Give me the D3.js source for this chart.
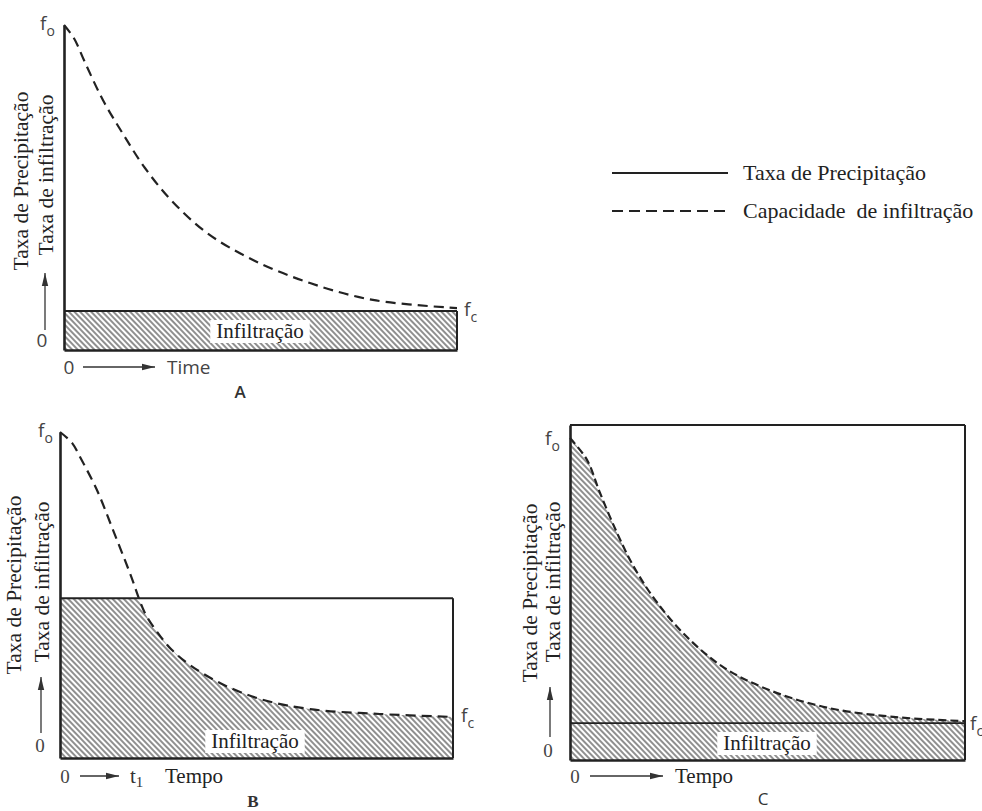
<!DOCTYPE html>
<html>
<head>
<meta charset="utf-8">
<script src="https://cdn.jsdelivr.net/npm/d3@7"></script>
<style>
  body { margin: 0; background: #fff; }
</style>
</head>
<body>
<script>
/* global d3 */

// Data (arbitrary units 0..10)
const timeA = [0, 0.25, 0.53, 0.99, 1.5, 2.06, 2.75, 3.64, 4.81, 6.26, 7.86, 10];
const capA = [10, 9.6, 8.86, 7.69, 6.65, 5.6, 4.58, 3.6, 2.77, 2.06, 1.54, 1.29];
const rainA = 1.2;

const timeB = [0, 0.31, 0.51, 0.94, 1.35, 1.78, 2.16, 2.47, 2.85, 3.31, 4.07, 5.09, 6.36, 8.14, 10];
const capB = [10, 9.66, 9.23, 8.22, 6.99, 5.67, 4.45, 3.87, 3.31, 2.85, 2.3, 1.81, 1.5, 1.35, 1.26];
const rainB = 4.9;

const timeC = [0, 0.43, 0.76, 1.19, 1.59, 2.1, 2.86, 3.87, 5.04, 6.56, 8.25, 10];
const capC = [9.61, 8.96, 7.97, 6.78, 5.82, 4.87, 3.79, 2.78, 2.09, 1.55, 1.28, 1.16];
const rainC = 10;
const lowLineC = 1.1;

const yLabels = ['Taxa de Precipitação', 'Taxa de infiltração'];
const legendLabels = ['Taxa de Precipitação', 'Capacidade  de infiltração'];
const areaLabel = 'Infiltração';

// SVG setup
const width = 982;
const height = 811;
const ink = '#222';
const serif = '"Liberation Serif", "Times New Roman", serif';
const sans = '"Open Sans", "DejaVu Sans", sans-serif';

const svg = d3.select('body')
.append('svg')
.attr('width', width)
.attr('height', height);

// hatch pattern "\\\\"
svg.append('defs')
.append('pattern')
.attr('id', 'hatch')
.attr('patternUnits', 'userSpaceOnUse')
.attr('width', 4)
.attr('height', 10)
.attr('patternTransform', 'rotate(-44)')
.append('line')
.attr('x1', 1).attr('y1', 0)
.attr('x2', 1).attr('y2', 10)
.attr('stroke', '#333')
.attr('stroke-width', 1.1);

const panels = [
    { id: 'A', time: timeA, cap: capA, rain: rainA, box: [64, 457, 25, 350],
      letter: 'A', letterPos: [240, 398], letterFont: sans, letterWeight: 600,
      yl: [[-36, 181], [-11, 175]], vArrow: [45, 330, 273], zeroY: [42, 347, sans],
      xRow: { y: 374, zero: 69, a0: 83, a1: 155, text: 'Time', tx: 167, font: sans },
      fo: [40, 30], fc: [464, 316], label: [260, 338], dash: '10,6' },
    { id: 'B', time: timeB, cap: capB, rain: rainB, box: [60, 453, 432, 758],
      letter: 'B', letterPos: [253, 807], letterFont: serif, letterWeight: 700,
      yl: [[-39, 585], [-11, 582]], vArrow: [41, 733, 677], zeroY: [40, 752, serif],
      xRow: { y: 783, zero: 65, a0: 80, a1: 119, text: 'Tempo', tx: 165, font: serif, t1: 130 },
      fo: [38, 437], fc: [461, 722], label: [255, 748], dash: '10,6' },
    { id: 'C', time: timeC, cap: capC, rain: rainC, box: [570, 965, 425, 760],
      letter: 'C', letterPos: [763, 805], letterFont: sans, letterWeight: 400,
      yl: [[-33, 593], [-10, 582]], vArrow: [550, 737, 687], zeroY: [548, 757, serif],
      xRow: { y: 783, zero: 575, a0: 590, a1: 663, text: 'Tempo', tx: 675, font: serif },
      fo: [545, 445], fc: [970, 730], label: [767, 750], dash: '8,4',
      lowLine: lowLineC }
];

panels.forEach(drawPanel);
drawLegend();

function arrow(g, x1, y1, x2, y2) {
    g.append('line')
    .attr('x1', x1).attr('y1', y1)
    .attr('x2', x2).attr('y2', y2)
    .attr('stroke', '#333')
    .attr('stroke-width', 1.3);
    const ang = Math.atan2(y2 - y1, x2 - x1);
    const len = 13;
    const w = 3.2;
    const bx = x2 - len * Math.cos(ang);
    const by = y2 - len * Math.sin(ang);
    const px = -Math.sin(ang) * w;
    const py = Math.cos(ang) * w;
    g.append('path')
    .attr('d', `M${x2},${y2}L${bx + px},${by + py}L${bx - px},${by - py}Z`)
    .attr('fill', '#333');
}

function fLabel(g, x, y, sub, font) {
    const t = g.append('text')
    .attr('x', x).attr('y', y)
    .attr('font-family', font)
    .attr('font-size', 19)
    .attr('fill', '#444');
    t.append('tspan').text('f');
    t.append('tspan').attr('dy', 6).attr('font-size', 14).text(sub);
}

function drawPanel(p) {
    const [left, right, top, bottom] = p.box;
    const g = svg.append('g');

    const x = d3.scaleLinear().domain([0, 10]).range([left, right]);
    const y = d3.scaleLinear().domain([0, 10]).range([bottom, top]);

    const pts = p.time.map((t, i) => ({ t: t, f: p.cap[i] }));
    const curve = d3.curveCatmullRom.alpha(0.5);

    // hatched infiltration: under capacity and under rainfall
    const clipId = 'clip' + p.id;
    g.append('clipPath')
    .attr('id', clipId)
    .append('rect')
    .attr('x', x(0))
    .attr('y', y(p.rain))
    .attr('width', x(10) - x(0))
    .attr('height', y(0) - y(p.rain));

    const area = d3.area()
    .x(d => x(d.t))
    .y0(y(0))
    .y1(d => y(d.f))
    .curve(curve);

    g.append('path')
    .datum(pts)
    .attr('d', area)
    .attr('fill', 'url(#hatch)')
    .attr('clip-path', `url(#${clipId})`);

    // white box with label
    const lbl = g.append('text')
    .attr('x', p.label[0])
    .attr('y', p.label[1])
    .attr('text-anchor', 'middle')
    .attr('font-family', serif)
    .attr('font-size', 21)
    .attr('fill', ink)
    .text(areaLabel);
    const bb = lbl.node().getBBox();
    g.insert('rect', 'text')
    .attr('x', bb.x - 6)
    .attr('y', bb.y + 1)
    .attr('width', bb.width + 12)
    .attr('height', bb.height - 1)
    .attr('fill', '#fff');

    // rainfall rate: top line and right edge
    g.append('line')
    .attr('x1', x(0)).attr('x2', x(10))
    .attr('y1', y(p.rain)).attr('y2', y(p.rain))
    .attr('stroke', ink).attr('stroke-width', 2);
    g.append('line')
    .attr('x1', x(10)).attr('x2', x(10))
    .attr('y1', y(p.rain)).attr('y2', y(0))
    .attr('stroke', ink).attr('stroke-width', 2);

    if (p.lowLine !== undefined) {
        g.append('line')
        .attr('x1', x(0)).attr('x2', x(10))
        .attr('y1', y(p.lowLine)).attr('y2', y(p.lowLine))
        .attr('stroke', ink).attr('stroke-width', 1.8);
    }

    // axes without ticks
    g.append('g')
    .attr('transform', `translate(0,${y(0)})`)
    .call(d3.axisBottom(x).tickValues([]).tickSizeOuter(0))
    .select('.domain')
    .attr('stroke', ink)
    .attr('stroke-width', 2.6);
    g.append('g')
    .attr('transform', `translate(${x(0)},0)`)
    .call(d3.axisLeft(y).tickValues([]).tickSizeOuter(0))
    .select('.domain')
    .attr('stroke', ink)
    .attr('stroke-width', 2.6);

    // infiltration capacity curve
    const line = d3.line()
    .x(d => x(d.t))
    .y(d => y(d.f))
    .curve(curve);

    g.append('path')
    .datum(pts)
    .attr('d', line)
    .attr('fill', 'none')
    .attr('stroke', ink)
    .attr('stroke-width', 2.2)
    .attr('stroke-dasharray', p.dash);

    // y labels
    yLabels.forEach((txt, i) => {
        g.append('text')
        .attr('transform', `translate(${left + p.yl[i][0]},${p.yl[i][1]}) rotate(-90)`)
        .attr('text-anchor', 'middle')
        .attr('font-family', serif)
        .attr('font-size', 21.5)
        .attr('fill', ink)
        .text(txt);
    });

    arrow(g, p.vArrow[0], p.vArrow[1], p.vArrow[0], p.vArrow[2]);

    g.append('text')
    .attr('x', p.zeroY[0]).attr('y', p.zeroY[1])
    .attr('text-anchor', 'middle')
    .attr('font-family', p.zeroY[2])
    .attr('font-size', 19)
    .attr('fill', '#444')
    .text('0');

    // x row: 0 -> (t1) Tempo
    const r = p.xRow;
    g.append('text')
    .attr('x', r.zero).attr('y', r.y)
    .attr('text-anchor', 'middle')
    .attr('font-family', r.font)
    .attr('font-size', 19)
    .attr('fill', '#444')
    .text('0');
    arrow(g, r.a0, r.y - 7, r.a1, r.y - 7);
    if (r.t1) {
        const t1 = g.append('text')
        .attr('x', r.t1).attr('y', r.y)
        .attr('font-family', serif)
        .attr('font-size', 21)
        .attr('fill', '#333');
        t1.append('tspan').text('t');
        t1.append('tspan').attr('dy', 4).attr('font-size', 15).text('1');
    }
    g.append('text')
    .attr('x', r.tx).attr('y', r.y)
    .attr('font-family', r.font)
    .attr('font-size', r.font === sans ? 19 : 21)
    .attr('fill', r.font === sans ? '#444' : ink)
    .text(r.text);

    fLabel(g, p.fo[0], p.fo[1], 'o', sans);
    fLabel(g, p.fc[0], p.fc[1], 'c', sans);

    g.append('text')
    .attr('x', p.letterPos[0]).attr('y', p.letterPos[1])
    .attr('text-anchor', 'middle')
    .attr('font-family', p.letterFont)
    .attr('font-weight', p.letterWeight)
    .attr('font-size', 17)
    .attr('fill', '#333')
    .text(p.letter);
}

function drawLegend() {
    const g = svg.append('g');
    const rows = [{ y: 173, dash: null }, { y: 211, dash: '11,6' }];
    rows.forEach((row, i) => {
        g.append('line')
        .attr('x1', 612).attr('x2', 728)
        .attr('y1', row.y).attr('y2', row.y)
        .attr('stroke', ink)
        .attr('stroke-width', 2)
        .attr('stroke-dasharray', row.dash);
        g.append('text')
        .attr('x', 743).attr('y', row.y + 7)
        .attr('font-family', serif)
        .attr('font-size', 22)
        .attr('fill', ink)
        .attr('xml:space', 'preserve')
        .style('white-space', 'pre')
        .text(legendLabels[i]);
    });
}
</script>
</body>
</html>
